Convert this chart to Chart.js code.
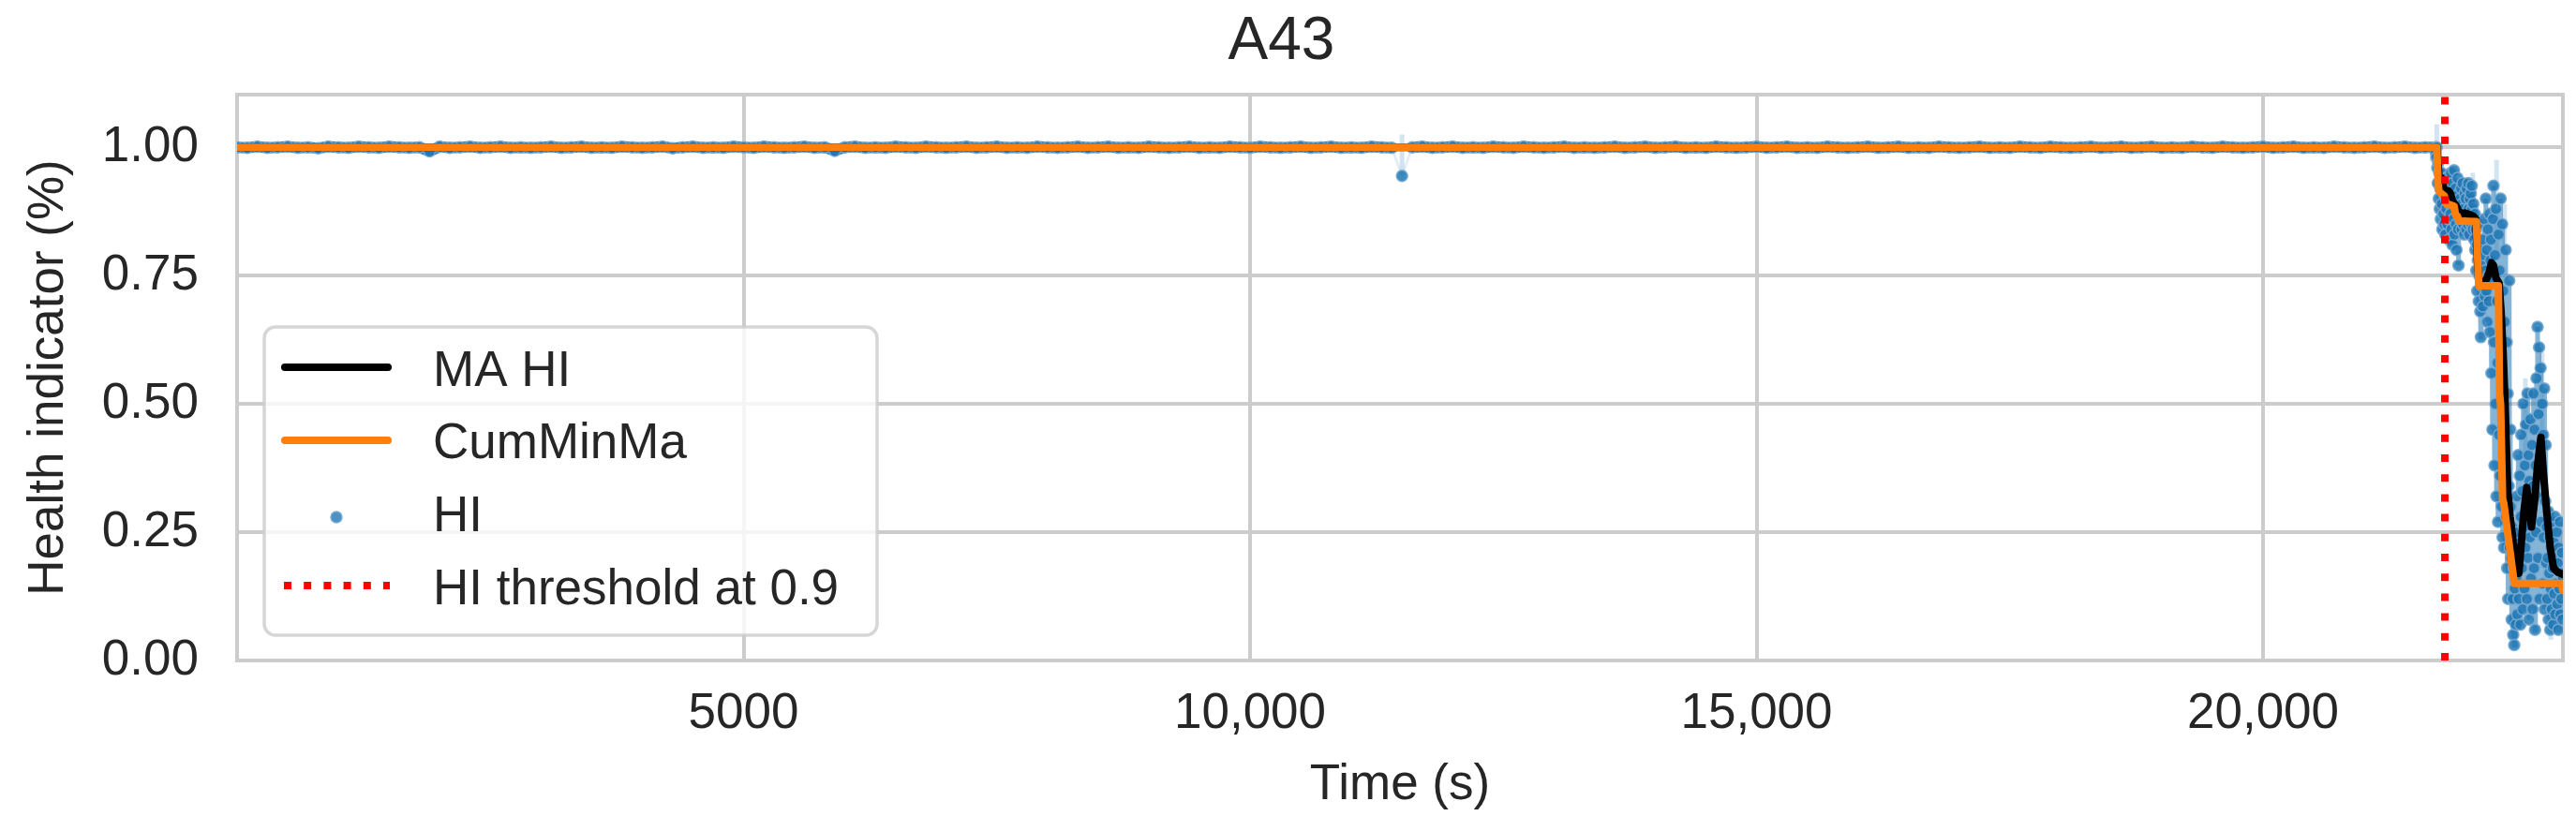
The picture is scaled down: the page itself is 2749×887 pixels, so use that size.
<!DOCTYPE html>
<html>
<head>
<meta charset="utf-8">
<script src="https://cdn.jsdelivr.net/npm/chart.js@4.4.0/dist/chart.umd.min.js"></script>
<style>
  html, body { margin: 0; padding: 0; background: #fff; }
  #wrap { width: 2749px; height: 887px; }
</style>
</head>
<body>
<div id="wrap"><canvas id="myChart" width="2749" height="887"></canvas></div>
<script>
// HI, healthy part, one reading every 100 s
var hiFlatStart = 0;
var hiFlatStep = 100;
var hiFlatValues = [
    1.000, 0.999, 1.001, 0.999, 1.000, 1.001, 0.999, 1.000, 0.998, 1.001,
    1.000, 0.999, 1.001, 1.000, 0.999, 1.001, 1.000, 0.999, 1.000, 0.992,
    1.001, 0.999, 1.000, 1.001, 0.999, 1.000, 1.001, 0.999, 1.000, 0.999,
    1.000, 1.001, 0.999, 1.000, 1.001, 0.999, 1.000, 0.999, 1.001, 1.000,
    0.999, 1.000, 1.001, 0.998, 1.000, 1.001, 0.999, 1.000, 0.999, 1.001,
    1.000, 0.999, 1.001, 1.000, 0.999, 1.000, 1.001, 0.999, 1.000, 0.993,
    1.000, 1.001, 0.999, 1.000, 0.999, 1.001, 1.000, 0.999, 1.001, 1.000,
    0.999, 1.000, 1.001, 0.999, 1.000, 1.001, 0.999, 1.000, 0.999, 1.001,
    1.000, 0.999, 1.000, 1.001, 0.999, 1.000, 1.001, 0.999, 1.000, 0.999,
    1.001, 1.000, 0.999, 1.000, 1.001, 0.999, 1.000, 0.999, 1.001, 1.000,
    0.999, 1.001, 1.000, 0.999, 1.000, 1.001, 0.999, 1.000, 1.001, 0.999,
    1.000, 0.999, 1.001, 1.000, 0.999, 0.944, 1.000, 1.001, 0.999, 1.000,
    1.001, 0.999, 1.000, 0.999, 1.001, 1.000, 0.999, 1.001, 1.000, 0.999,
    1.000, 1.001, 0.999, 1.000, 0.999, 1.000, 1.001, 0.999, 1.000, 1.001,
    0.999, 1.000, 1.001, 0.999, 1.000, 0.999, 1.001, 1.000, 0.999, 1.000,
    1.001, 0.999, 1.000, 1.001, 0.999, 1.000, 0.999, 1.001, 1.000, 0.999,
    1.000, 1.001, 0.999, 1.000, 1.001, 0.999, 1.000, 0.999, 1.001, 1.000,
    0.999, 1.000, 1.001, 0.999, 1.000, 0.999, 1.001, 1.000, 0.999, 1.001,
    1.000, 0.999, 1.000, 1.001, 0.999, 1.000, 1.001, 0.999, 1.000, 1.001,
    0.999, 1.000, 0.999, 1.001, 1.000, 0.999, 1.001, 1.000, 0.999, 1.000,
    1.001, 0.999, 1.000, 1.001, 0.999, 1.000, 0.999, 1.001, 1.000, 0.999,
    1.000, 1.001, 0.999, 1.000, 1.001, 0.999, 1.000
];

// HI, degradation part, one reading every 5 s
var hiDropStart = 21700;
var hiDropStep = 5;
var hiDropValues = [
    1.00, 0.99, 0.98, 1.00, 0.96, 0.93, 0.97, 0.90, 0.95, 0.88,
    0.92, 0.86, 0.95, 0.89, 0.84, 0.93, 0.87, 0.91, 0.85, 0.94,
    0.83, 0.90, 0.88, 0.94, 0.85, 0.92, 0.86, 0.82, 0.89, 0.91,
    0.87, 0.95, 0.84, 0.90, 0.81, 0.93, 0.86, 0.955, 0.83, 0.89,
    0.92, 0.85, 0.80, 0.88, 0.94, 0.84, 0.77, 0.91, 0.86, 0.90,
    0.87, 0.92, 0.84, 0.89, 0.93, 0.85, 0.88, 0.83, 0.91, 0.86,
    0.90, 0.84, 0.92, 0.87, 0.85, 0.93, 0.88, 0.83, 0.90, 0.86,
    0.91, 0.85, 0.925, 0.88, 0.84, 0.89, 0.86, 0.82, 0.87, 0.80,
    0.84, 0.76, 0.81, 0.72, 0.78, 0.85, 0.70, 0.75, 0.80, 0.68,
    0.63, 0.77, 0.73, 0.82, 0.69, 0.79, 0.74, 0.86, 0.71, 0.76,
    0.90, 0.72, 0.80, 0.66, 0.84, 0.75, 0.70, 0.87, 0.64, 0.78,
    0.82, 0.56, 0.74, 0.45, 0.86, 0.925, 0.62, 0.38, 0.79, 0.50,
    0.88, 0.32, 0.70, 0.58, 0.27, 0.83, 0.44, 0.76, 0.36, 0.90,
    0.60, 0.30, 0.85, 0.24, 0.72, 0.40, 0.22, 0.66, 0.33, 0.80,
    0.28, 0.62, 0.18, 0.52, 0.12, 0.34, 0.74, 0.22, 0.45, 0.30,
    0.20, 0.08, 0.26, 0.12, 0.05, 0.18, 0.03, 0.14, 0.24, 0.07,
    0.16, 0.32, 0.09, 0.25, 0.40, 0.12, 0.21, 0.36, 0.07, 0.28,
    0.44, 0.18, 0.33, 0.10, 0.50, 0.26, 0.14, 0.38, 0.22, 0.46,
    0.30, 0.12, 0.52, 0.20, 0.40, 0.08, 0.35, 0.24, 0.47, 0.16,
    0.28, 0.42, 0.10, 0.34, 0.52, 0.18, 0.45, 0.06, 0.38, 0.25,
    0.55, 0.32, 0.65, 0.20, 0.48, 0.61, 0.12, 0.40, 0.57, 0.27,
    0.36, 0.50, 0.15, 0.44, 0.24, 0.53, 0.10, 0.31, 0.42, 0.19,
    0.26, 0.12, 0.20, 0.29, 0.08, 0.17, 0.24, 0.06, 0.14, 0.22,
    0.10, 0.27, 0.18, 0.07, 0.23, 0.13, 0.28, 0.09, 0.20, 0.15,
    0.25, 0.11, 0.19, 0.06, 0.22, 0.14, 0.27, 0.09, 0.17, 0.12,
    0.21, 0.08, 0.16
];

// light spread of HI readings at a few times
var spreadTime = [11500, 21715, 22070, 22305, 22385, 22590, 22755, 22840];
var spreadLow = [0.945, 0.98, 0.88, 0.80, 0.80, 0.40, 0.40, 0.04];
var spreadHigh = [1.025, 1.045, 0.95, 0.975, 0.89, 0.55, 0.60, 0.30];

// moving average of HI
var maTime = [0, 21715, 21730, 21745, 21760, 21770, 21790, 21809, 21830, 21850,
    21870, 21890, 21910, 21930, 21950, 21970, 21990, 22020, 22050, 22080,
    22100, 22112, 22125, 22140, 22170, 22200, 22230, 22255, 22275, 22300,
    22330, 22350, 22370, 22390, 22405, 22416, 22440, 22470, 22500, 22526,
    22550, 22575, 22603, 22625, 22650, 22680, 22710, 22743, 22770, 22800,
    22835, 22868, 22910, 22960];
var maValues = [1.0, 1.0, 0.96, 0.925, 0.94, 0.935, 0.91, 0.905, 0.915, 0.91,
    0.895, 0.89, 0.885, 0.875, 0.873, 0.87, 0.872, 0.87, 0.868, 0.865,
    0.86, 0.80, 0.75, 0.735, 0.735, 0.74, 0.755, 0.775, 0.77, 0.745,
    0.735, 0.68, 0.60, 0.50, 0.40, 0.33, 0.28, 0.23, 0.19, 0.17,
    0.23, 0.29, 0.337, 0.30, 0.26, 0.31, 0.38, 0.435, 0.36, 0.29,
    0.22, 0.18, 0.172, 0.168];

// cumulative minimum of the moving average
var cumMinTime = [0, 21715, 21725, 21735, 21747, 21790, 21809, 21887, 21900, 21918,
    21935, 22105, 22115, 22130, 22323, 22335, 22345, 22365, 22378, 22480,
    22948, 22958];
var cumMinValues = [1.0, 1.0, 0.95, 0.915, 0.912, 0.905, 0.89, 0.885, 0.868, 0.866,
    0.856, 0.855, 0.80, 0.73, 0.73, 0.52, 0.50, 0.315, 0.305, 0.15,
    0.15, 0.137];

var thresholdTime = 21795;
var thresholdLabel = 'HI threshold at 0.9';

var xMin = 0, xMax = 22960;
var yMin = 0, yMax = 1.1025;
var xTickValues = [5000, 10000, 15000, 20000];
var xTickLabels = ['5000', '10,000', '15,000', '20,000'];
var yTickValues = [0, 0.25, 0.5, 0.75, 1.0];
var yTickLabels = ['0.00', '0.25', '0.50', '0.75', '1.00'];

var BLUE = '#1f77b4', ORANGE = '#ff7f0e', INK = '#262626', GRID = '#cccccc';
var FONT = '"Liberation Sans", Arial, sans-serif';

// build {x, y} points
var hiPoints = [];
hiFlatValues.forEach(function (v, i) { hiPoints.push({ x: hiFlatStart + i * hiFlatStep, y: v }); });
hiDropValues.forEach(function (v, i) { hiPoints.push({ x: hiDropStart + i * hiDropStep, y: v }); });

var spreadPoints = [];
spreadTime.forEach(function (t, i) {
    spreadPoints.push({ x: t, y: spreadLow[i] }, { x: t, y: spreadHigh[i] }, { x: t, y: null });
});

var maPoints = maTime.map(function (t, i) { return { x: t, y: maValues[i] }; });
var cumMinPoints = cumMinTime.map(function (t, i) { return { x: t, y: cumMinValues[i] }; });
var thresholdPoints = [{ x: thresholdTime, y: yMin }, { x: thresholdTime, y: yMax }];

// the densely sampled healthy readings merge into one band
function isFlat(c) {
    return c.p0.parsed.x < hiDropStart && c.p0.parsed.y > 0.98 && c.p1.parsed.y > 0.98;
}
function isDrop(c) {
    return c.p0.parsed.x >= hiDropStart;
}

// frame round the plot area
var framePlugin = {
    id: 'frame',
    beforeDatasetsDraw: function (chart) {
        var a = chart.chartArea, ctx = chart.ctx;
        ctx.save();
        ctx.strokeStyle = GRID;
        ctx.lineWidth = 4;
        ctx.strokeRect(a.left, a.top, a.right - a.left, a.bottom - a.top);
        ctx.restore();
    }
};

// legend box inside the plot, like matplotlib
var legendPlugin = {
    id: 'boxLegend',
    afterDatasetsDraw: function (chart) {
        var ctx = chart.ctx, a = chart.chartArea;
        var bx = a.left + 29, by = a.top + 248, bw = 654, bh = 329, r = 12;
        ctx.save();
        ctx.beginPath();
        ctx.moveTo(bx + r, by);
        ctx.arcTo(bx + bw, by, bx + bw, by + bh, r);
        ctx.arcTo(bx + bw, by + bh, bx, by + bh, r);
        ctx.arcTo(bx, by + bh, bx, by, r);
        ctx.arcTo(bx, by, bx + bw, by, r);
        ctx.closePath();
        ctx.fillStyle = 'rgba(255,255,255,0.8)';
        ctx.fill();
        ctx.lineWidth = 3.5;
        ctx.strokeStyle = 'rgba(204,204,204,0.8)';
        ctx.stroke();

        var x0 = bx + 22, x1 = bx + 132;
        ctx.lineCap = 'round';
        ctx.lineWidth = 8;
        ctx.strokeStyle = '#000';
        ctx.beginPath(); ctx.moveTo(x0, by + 43); ctx.lineTo(x1, by + 43); ctx.stroke();
        ctx.strokeStyle = ORANGE;
        ctx.beginPath(); ctx.moveTo(x0, by + 121); ctx.lineTo(x1, by + 121); ctx.stroke();

        ctx.beginPath(); ctx.arc(bx + 77, by + 203, 6, 0, Math.PI * 2);
        ctx.fillStyle = 'rgba(31,119,180,0.8)'; ctx.fill();
        ctx.lineWidth = 1.5; ctx.strokeStyle = 'rgba(120,170,210,0.9)'; ctx.stroke();

        ctx.lineCap = 'butt';
        ctx.lineWidth = 8;
        ctx.strokeStyle = '#ff0000';
        ctx.setLineDash([8, 13.2]);
        ctx.beginPath(); ctx.moveTo(bx + 21, by + 276); ctx.lineTo(bx + 134, by + 276); ctx.stroke();
        ctx.setLineDash([]);

        ctx.fillStyle = INK;
        ctx.font = '53px ' + FONT;
        ctx.textBaseline = 'alphabetic';
        ctx.textAlign = 'left';
        var names = [chart.data.datasets[0].label, chart.data.datasets[1].label,
                     chart.data.datasets[2].label, thresholdLabel];
        var base = [63, 140, 218, 296];
        for (var i = 0; i < names.length; i++) ctx.fillText(names[i], bx + 180, by + base[i]);
        ctx.restore();
    }
};

var ctx = document.getElementById('myChart').getContext('2d');
var myChart = new Chart(ctx, {
    type: 'scatter',
    data: {
        datasets: [{
            label: 'MA HI',
            data: maPoints,
            showLine: true,
            borderColor: '#000',
            borderWidth: 8,
            borderJoinStyle: 'round',
            borderCapStyle: 'round',
            pointRadius: 0,
            order: 2
        }, {
            label: 'CumMinMa',
            data: cumMinPoints,
            showLine: true,
            borderColor: ORANGE,
            borderWidth: 8,
            borderJoinStyle: 'round',
            borderCapStyle: 'round',
            pointRadius: 0,
            order: 1
        }, {
            label: 'HI',
            data: hiPoints,
            showLine: true,
            borderColor: 'rgba(31,119,180,0.12)',
            borderWidth: 3,
            segment: {
                borderColor: function (c) {
                    if (isFlat(c)) return 'rgba(31,119,180,0.9)';
                    if (isDrop(c)) return 'rgba(31,119,180,0.55)';
                    return undefined;
                },
                borderWidth: function (c) {
                    if (isFlat(c)) return 12;
                    if (isDrop(c)) return 5;
                    return undefined;
                }
            },
            pointRadius: 6,
            pointBorderWidth: 1.5,
            pointBackgroundColor: 'rgba(31,119,180,0.85)',
            pointBorderColor: 'rgba(120,170,210,0.9)',
            order: 3
        }, {
            label: 'spread',
            data: spreadPoints,
            showLine: true,
            spanGaps: false,
            borderColor: 'rgba(31,119,180,0.2)',
            borderWidth: 5,
            pointRadius: 0,
            order: 4
        }, {
            label: thresholdLabel,
            data: thresholdPoints,
            showLine: true,
            borderColor: '#ff0000',
            borderWidth: 8,
            borderDash: [8, 13.2],
            borderCapStyle: 'butt',
            pointRadius: 0,
            order: 0
        }]
    },
    options: {
        responsive: false,
        animation: false,
        devicePixelRatio: 1,
        layout: { padding: { left: 0, right: 14, top: 0, bottom: 0 } },
        font: { family: FONT },
        plugins: {
            legend: { display: false },
            tooltip: { enabled: false },
            title: {
                display: true,
                text: 'A43',
                color: INK,
                font: { family: FONT, size: 64, weight: 'normal', lineHeight: 1.25 },
                padding: { top: 5, bottom: 16 }
            }
        },
        scales: {
            x: {
                type: 'linear',
                min: xMin,
                max: xMax,
                afterBuildTicks: function (s) { s.ticks = xTickValues.map(function (v) { return { value: v }; }); },
                afterFit: function (s) { s.height = 182; },
                ticks: {
                    callback: function (v) { return xTickLabels[xTickValues.indexOf(v)]; },
                    padding: 26,
                    color: INK,
                    font: { family: FONT, size: 53 },
                    maxRotation: 0,
                    autoSkip: false
                },
                grid: { color: GRID, lineWidth: 4, drawTicks: false },
                border: { display: false },
                title: {
                    display: true,
                    text: 'Time (s)',
                    color: INK,
                    font: { family: FONT, size: 53 },
                    padding: { top: 0, bottom: 17 }
                }
            },
            y: {
                type: 'linear',
                min: yMin,
                max: yMax,
                afterBuildTicks: function (s) { s.ticks = yTickValues.map(function (v) { return { value: v }; }); },
                afterFit: function (s) { s.width = 253; },
                ticks: {
                    callback: function (v) { return yTickLabels[yTickValues.indexOf(v)]; },
                    padding: 41,
                    color: INK,
                    font: { family: FONT, size: 53 },
                    autoSkip: false
                },
                grid: { color: GRID, lineWidth: 4, drawTicks: false },
                border: { display: false },
                title: {
                    display: true,
                    text: 'Health indicator (%)',
                    color: INK,
                    font: { family: FONT, size: 53 },
                    padding: { top: 21, bottom: 0 }
                }
            }
        }
    },
    plugins: [framePlugin, legendPlugin]
});
</script>
</body>
</html>
